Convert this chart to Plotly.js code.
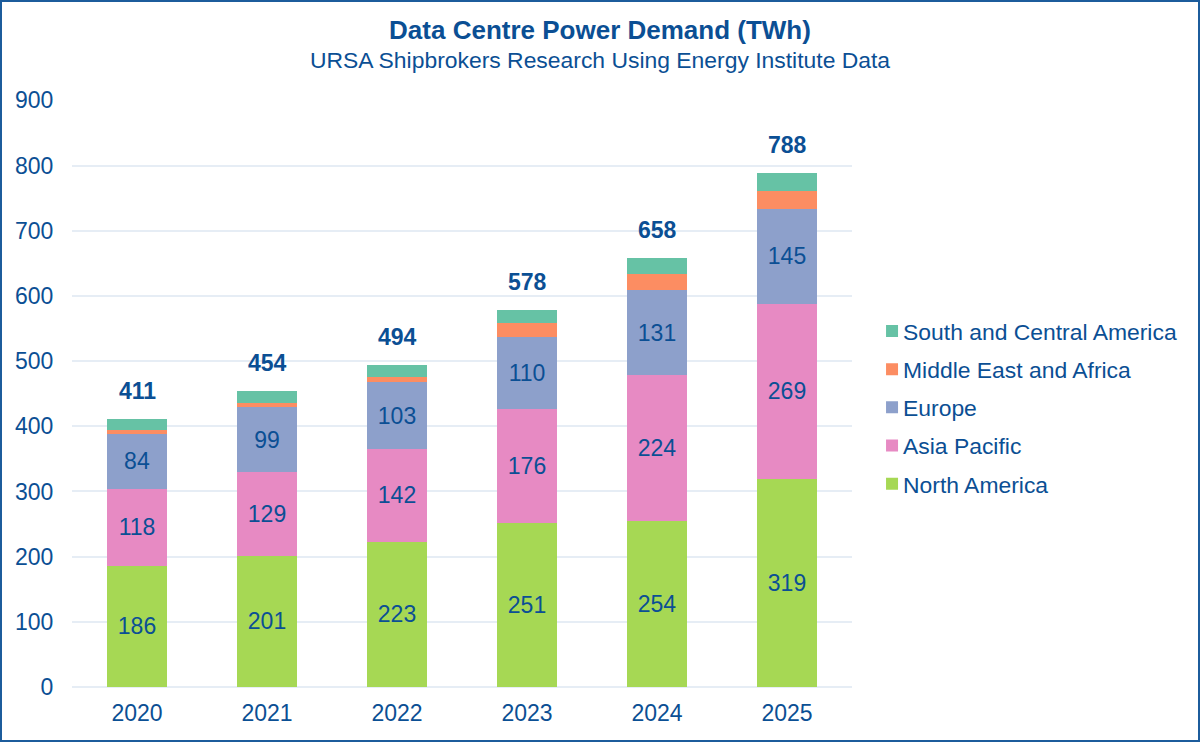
<!DOCTYPE html>
<html>
<head>
<meta charset="utf-8">
<script src="https://cdn.plot.ly/plotly-3.0.1.min.js"></script>
<style>
html,body{margin:0;padding:0;background:#fff;}
#chart{position:absolute;left:0;top:0;width:1200px;height:742px;}
#frame{position:absolute;left:0;top:0;width:1200px;height:742px;box-sizing:border-box;border:2px solid #1c5c9c;pointer-events:none;}
</style>
</head>
<body>
<div id="chart"></div>
<div id="frame"></div>
<script>
const years = ['2020','2021','2022','2023','2024','2025'];
const northAmerica = [186,201,223,251,254,319];
const asiaPacific = [118,129,142,176,224,269];
const europe = [84,99,103,110,131,145];
const middleEastAfrica = [6,6,8,21,25,28];
const southCentralAmerica = [17,19,18,20,24,27];
const totals = [411,454,494,578,658,788];

const ink = '#0b4f94';
const grid = '#e6edf5';
const font = 'Liberation Sans, Arial, sans-serif';

function seg(name, values, color, labelled, rank){
  return {
    type:'bar', name:name, x:years, y:values,
    legendgroup:name, legendrank:rank,
    marker:{color:color, line:{width:0}},
    text: labelled ? values.map(String) : undefined,
    textposition: labelled ? 'inside' : 'none',
    insidetextanchor:'middle',
    textangle:0,
    insidetextfont:{family:font,size:23,color:ink},
    hoverinfo:'x+y+name'
  };
}
const traces = [
  seg('North America', northAmerica, '#a6d854', true, 5),
  seg('Asia Pacific', asiaPacific, '#e78ac3', true, 4),
  seg('Europe', europe, '#8da0cb', true, 3),
  seg('Middle East and Africa', middleEastAfrica, '#fc8d62', false, 2),
  seg('South and Central America', southCentralAmerica, '#66c2a5', false, 1)
];
const totalLabels = years.map((yr,i)=>({
  x:i, y:totals[i], xref:'x', yref:'y', text:'<b>'+totals[i]+'</b>',
  showarrow:false, yanchor:'middle', yshift:28,
  font:{family:font,size:23,color:ink}
}));
const layout = {
  width:1200, height:742,
  paper_bgcolor:'#fff', plot_bgcolor:'#fff',
  font:{family:font,size:23,color:ink},
  barmode:'stack', bargap:0.545,
  margin:{l:72,r:348,t:99.5,b:54.5,pad:0},
  annotations:totalLabels,
  title:{
    text:"<b style='font-size:26px'>Data Centre Power Demand (TWh)</b><br><span style='font-size:22.9px'>URSA Shipbrokers Research Using Energy Institute Data</span>",
    x:0.5, xanchor:'center', xref:'container',
    y:0.948, yanchor:'middle', yref:'container',
    font:{family:font,size:22.9,color:ink}
  },
  xaxis:{type:'category', categoryorder:'array', categoryarray:years, showgrid:false, showline:false, zeroline:false,
    ticks:'outside', ticklen:5, tickcolor:'rgba(0,0,0,0)',
    tickfont:{family:font,size:23,color:ink}},
  yaxis:{range:[0,900.6], tickvals:[0,100,200,300,400,500,600,700,800,900], showgrid:true, gridcolor:grid, gridwidth:2,
    zeroline:true, zerolinecolor:grid, zerolinewidth:2, showline:false,
    ticks:'outside', ticklen:13, tickcolor:'rgba(0,0,0,0)',
    tickfont:{family:font,size:23,color:ink}},
  legend:{x:0.7267, xref:'container', xanchor:'left', y:0.476, yanchor:'middle',
    font:{family:font,size:22.9,color:ink}, bgcolor:'rgba(0,0,0,0)',
    traceorder:'grouped', tracegroupgap:5.4, itemclick:false, itemdoubleclick:false},
  showlegend:true
};
const gd = document.getElementById('chart');
function tightenLegend(){
  gd.querySelectorAll('.legendtext').forEach(t=>t.setAttribute('x','31'));
}
Plotly.newPlot(gd, traces, layout, {displayModeBar:false}).then(()=>{
  tightenLegend();
  gd.on('plotly_afterplot', tightenLegend);
});
</script>
</body>
</html>
